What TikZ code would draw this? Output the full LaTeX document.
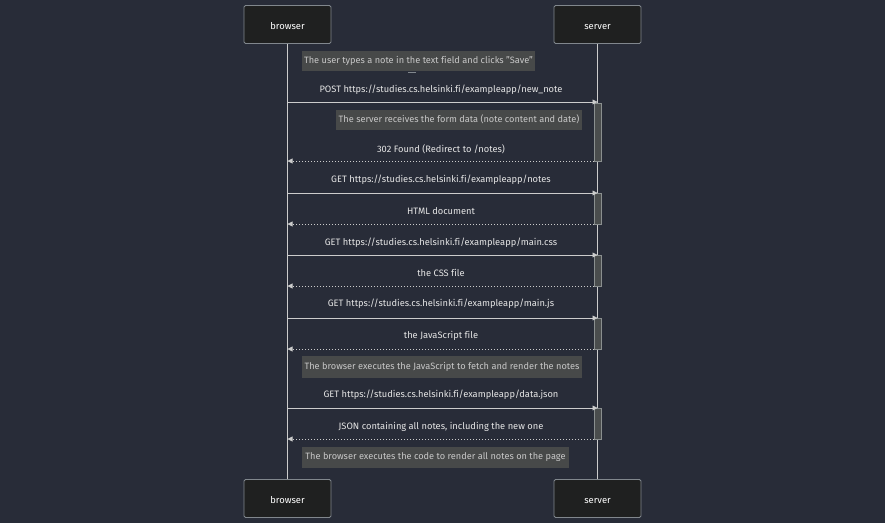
\documentclass[tikz,border=0pt]{standalone}
\usepackage{fontspec}
\setmainfont{Fira Sans}[Ligatures={NoCommon}]
\usetikzlibrary{arrows.meta}
\definecolor{bgc}{HTML}{282C38}
\definecolor{actorfill}{HTML}{1F2020}
\definecolor{actorline}{HTML}{81878D}
\definecolor{linec}{HTML}{CCCCCC}
\definecolor{notefill}{HTML}{474949}
\definecolor{notetext}{HTML}{C8C8C8}
\definecolor{msgtext}{HTML}{E6E6E6}
\definecolor{actfill}{HTML}{4A4D4D}
\definecolor{actline}{HTML}{8A8F8F}
\newcommand{\actortext}[1]{\raisebox{-1pt}[7pt][0pt]{#1}}
\tikzset{
  x=1pt, y=-1pt,
  actor/.style={draw=actorline, fill=actorfill, rounded corners=1.5pt, line width=0.8pt,
    minimum width=87pt, minimum height=38pt, text=white, font=\fontsize{9.4}{11}\selectfont},
  note/.style={fill=notefill, text=notetext, inner sep=2pt, minimum height=20pt,
    font=\fontsize{9.2}{11}\selectfont},
  msglabel/.style={text=msgtext, font=\fontsize{9.3}{11}\selectfont},
  lifeline/.style={draw=linec, line width=0.7pt},
  req/.style={draw=linec, line width=0.8pt, -{Triangle[length=5pt,width=5pt]}},
  resp/.style={draw=linec, line width=0.8pt, dash pattern=on 1.5pt off 1.5pt,
    -{Triangle[length=5pt,width=5pt]}},
  activation/.style={draw=actline, fill=actfill, line width=0.7pt},
}
\begin{document}
\begin{tikzpicture}
\fill[bgc] (0,0) rectangle (885,523);
\useasboundingbox (0,0) rectangle (885,523);

% lifelines
\coordinate (bTop) at (287.5,43);
\coordinate (bBot) at (287.5,479);
\coordinate (sTop) at (597.5,43);
\coordinate (sBot) at (597.5,479);
\draw[lifeline] (bTop) -- (bBot);
\draw[lifeline] (sTop) -- (sBot);

% actor boxes
\node[actor] (browserTop) at (287.5,24.5) {\actortext{browser}};
\node[actor] (serverTop) at (597.5,24.5) {\actortext{server}};
\node[actor] (browserBot) at (287.5,498.5) {\actortext{browser}};
\node[actor] (serverBot) at (597.5,498.5) {\actortext{server}};

% activation bars
\draw[activation] (594,103) rectangle (601,161);
\draw[activation] (594,193) rectangle (601,224);
\draw[activation] (594,255) rectangle (601,286);
\draw[activation] (594,318) rectangle (601,349);
\draw[activation] (594,408) rectangle (601,439);

% notes
\node[note, minimum width=233pt] (n1) at (418.5,60.5) {The user types a note in the text field and clicks "Save"};
\draw[draw=actorline, line width=0.6pt] (408,72) -- (416,72);
\node[note, minimum width=246pt] (n2) at (459,119.5) {The server receives the form data (note content and date)};
\node[note, minimum width=280pt, minimum height=22pt] (n3) at (442,366.5) {The browser executes the JavaScript to fetch and render the notes};
\node[note, minimum width=267pt, minimum height=21pt] (n4) at (435.5,457) {The browser executes the code to render all notes on the page};

% message end points
\foreach \n/\y in {1/102,2/161,3/193,4/224,5/255,6/286,7/318,8/349,9/408,10/439}{
  \coordinate (b\n) at (287.5,\y);
  \coordinate (s\n) at (597.5,\y);
}
\coordinate (a2) at (594,161);
\coordinate (a4) at (594,224);
\coordinate (a6) at (594,286);
\coordinate (a8) at (594,349);
\coordinate (a10) at (594,439);

% messages
\draw[req] (b1) -- (s1);
\node[msglabel] (m1) at (441,90) {POST https://studies.cs.helsinki.fi/exampleapp/new\_note};
\draw[resp] (a2) -- (b2);
\node[msglabel] (m2) at (441,149) {302 Found (Redirect to /notes)};
\draw[req] (b3) -- (s3);
\node[msglabel] (m3) at (441,180) {GET https://studies.cs.helsinki.fi/exampleapp/notes};
\draw[resp] (a4) -- (b4);
\node[msglabel] (m4) at (441,211) {HTML document};
\draw[req] (b5) -- (s5);
\node[msglabel] (m5) at (441,243) {GET https://studies.cs.helsinki.fi/exampleapp/main.css};
\draw[resp] (a6) -- (b6);
\node[msglabel] (m6) at (441,273) {the CSS file};
\draw[req] (b7) -- (s7);
\node[msglabel] (m7) at (441,304) {GET https://studies.cs.helsinki.fi/exampleapp/main.js};
\draw[resp] (a8) -- (b8);
\node[msglabel] (m8) at (441,336) {the JavaScript file};
\draw[req] (b9) -- (s9);
\node[msglabel] (m9) at (441,395) {GET https://studies.cs.helsinki.fi/exampleapp/data.json};
\draw[resp] (a10) -- (b10);
\node[msglabel] (m10) at (441,427) {JSON containing all notes, including the new one};
\end{tikzpicture}
\end{document}
